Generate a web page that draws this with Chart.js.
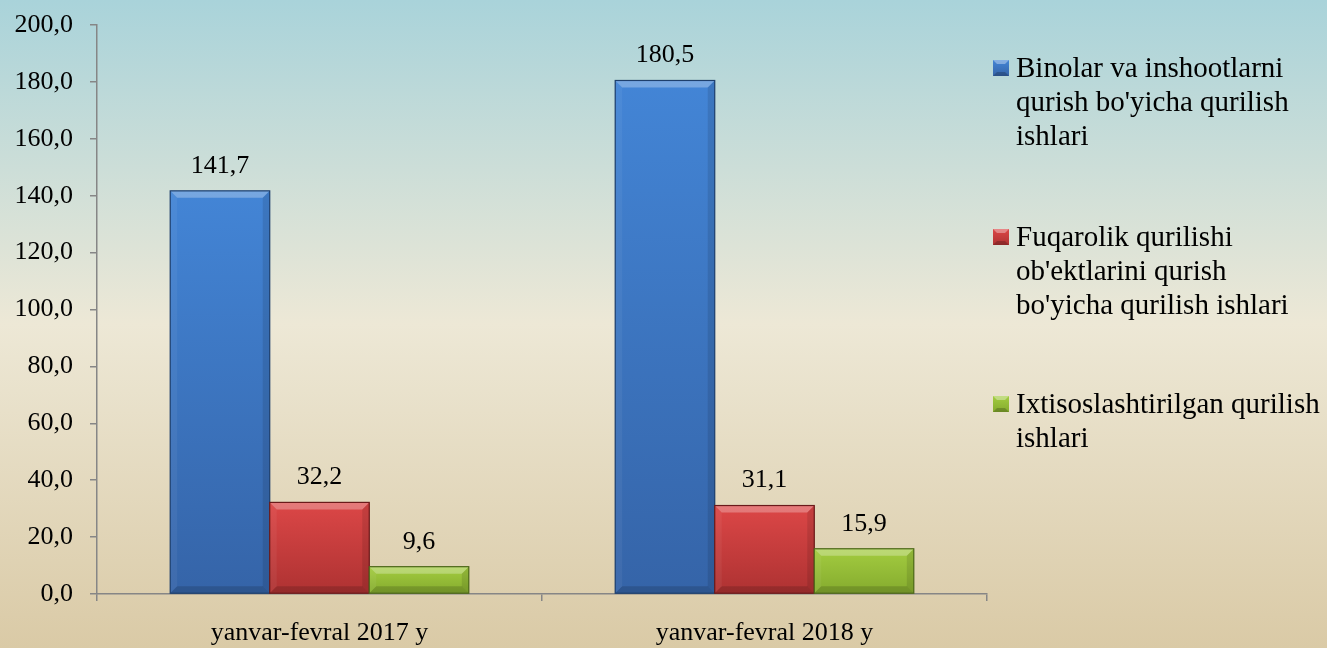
<!DOCTYPE html>
<html><head><meta charset="utf-8">
<script src="https://cdn.jsdelivr.net/npm/chart.js@4.4.1/dist/chart.umd.min.js"></script>
<style>html,body{margin:0;padding:0;overflow:hidden;background:#fff}</style>
</head><body>
<canvas id="c" width="1327" height="648" style="display:block;width:1327px;height:648px"></canvas>
<script>
const categories = ["yanvar-fevral 2017 y", "yanvar-fevral 2018 y"];
const seriesNames = [
  ["Binolar va inshootlarni", "qurish bo'yicha qurilish", "ishlari"],
  ["Fuqarolik qurilishi", "ob'ektlarini qurish", "bo'yicha qurilish ishlari"],
  ["Ixtisoslashtirilgan qurilish", "ishlari"]
];
const binolar = [141.7, 180.5];
const fuqarolik = [32.2, 31.1];
const ixtisoslashtirilgan = [9.6, 15.9];
const yMin = 0, yMax = 200, yStep = 20;

const palettes = [
  {top: '#4385d6', bottom: '#3564a8', border: '#1e3f6c'},
  {top: '#dc4747', bottom: '#ae3232', border: '#6a1a1a'},
  {top: '#a3cc40', bottom: '#85ab2e', border: '#4c661a'}
];
const FONT = "'Liberation Serif', 'Times New Roman', serif";
const fmt = v => v.toFixed(1).replace('.', ',');

Chart.defaults.font.family = FONT;
Chart.defaults.font.size = 26;
Chart.defaults.color = '#000';

const bgPlugin = {
  id: 'bg',
  beforeDraw(chart) {
    const ctx = chart.ctx, w = chart.width, h = chart.height;
    const g = ctx.createLinearGradient(0, 0, 0, h);
    g.addColorStop(0, '#a9d3da');
    g.addColorStop(0.5, '#ede8d6');
    g.addColorStop(1, '#dacaa6');
    ctx.save(); ctx.fillStyle = g; ctx.fillRect(0, 0, w, h); ctx.restore();
  }
};

function poly(ctx, pts, color) {
  ctx.beginPath();
  ctx.moveTo(pts[0][0], pts[0][1]);
  for (let k = 1; k < pts.length; k++) ctx.lineTo(pts[k][0], pts[k][1]);
  ctx.closePath();
  ctx.fillStyle = color; ctx.fill();
}

const bevelPlugin = {
  id: 'bevel',
  afterDatasetsDraw(chart) {
    const ctx = chart.ctx;
    chart.data.datasets.forEach((ds, i) => {
      const meta = chart.getDatasetMeta(i);
      const pal = palettes[i];
      meta.data.forEach((bar, j) => {
        const p = bar.getProps(['x', 'y', 'base', 'width'], true);
        const l = p.x - p.width / 2, r = p.x + p.width / 2, t = p.y, b = p.base;
        const d = Math.min(7, (b - t) / 2);
        ctx.save();
        const g = ctx.createLinearGradient(0, t, 0, b);
        g.addColorStop(0, pal.top); g.addColorStop(1, pal.bottom);
        ctx.fillStyle = g; ctx.fillRect(l, t, r - l, b - t);
        poly(ctx, [[l, t], [r, t], [r - d, t + d], [l + d, t + d]], 'rgba(255,255,255,0.28)');
        poly(ctx, [[l, t], [l + d, t + d], [l + d, b - d], [l, b]], 'rgba(255,255,255,0.05)');
        poly(ctx, [[r, t], [r - d, t + d], [r - d, b - d], [r, b]], 'rgba(0,0,0,0.10)');
        poly(ctx, [[l, b], [l + d, b - d], [r - d, b - d], [r, b]], 'rgba(0,0,0,0.15)');
        ctx.strokeStyle = pal.border; ctx.lineWidth = 1.2;
        ctx.strokeRect(l, t, r - l, b - t);
        ctx.fillStyle = '#000';
        ctx.font = '26px ' + FONT;
        ctx.textAlign = 'center'; ctx.textBaseline = 'middle';
        ctx.fillText(fmt(ds.data[j]), p.x, t - 25);
        ctx.restore();
      });
    });
  }
};

const legendPlugin = {
  id: 'customLegend',
  afterDraw(chart) {
    const ctx = chart.ctx;
    const x0 = 993, starts = [68, 237, 404], lh = 34, box = 16;
    ctx.save();
    chart.data.datasets.forEach((ds, i) => {
      const pal = palettes[i];
      const cy = starts[i];
      const bx = x0, by = cy - box / 2;
      const g = ctx.createLinearGradient(0, by, 0, by + box);
      g.addColorStop(0, pal.top); g.addColorStop(1, pal.bottom);
      ctx.fillStyle = g; ctx.fillRect(bx, by, box, box);
      const d = 4;
      poly(ctx, [[bx, by], [bx + box, by], [bx + box - d, by + d], [bx + d, by + d]], 'rgba(255,255,255,0.35)');
      poly(ctx, [[bx, by + box], [bx + d, by + box - d], [bx + box - d, by + box - d], [bx + box, by + box]], 'rgba(0,0,0,0.2)');
      ctx.fillStyle = '#000';
      ctx.font = '29px ' + FONT;
      ctx.textAlign = 'left'; ctx.textBaseline = 'middle';
      ds.labelLines.forEach((line, k) => ctx.fillText(line, x0 + 23, cy + 1 + k * lh));
    });
    ctx.restore();
  }
};

const seriesData = [binolar, fuqarolik, ixtisoslashtirilgan];
new Chart(document.getElementById('c'), {
  type: 'bar',
  data: {
    labels: categories,
    datasets: seriesData.map((arr, i) => ({
      label: seriesNames[i].join(' '),
      labelLines: seriesNames[i],
      data: arr,
      backgroundColor: palettes[i].top,
      borderWidth: 0,
      categoryPercentage: 0.671,
      barPercentage: 1.0
    }))
  },
  options: {
    responsive: false,
    animation: false,
    devicePixelRatio: 1,
    layout: {autoPadding: false, padding: {left: 14, right: 340, top: 25, bottom: 0}},
    plugins: {legend: {display: false}, tooltip: {enabled: false}},
    scales: {
      x: {
        afterFit: s => { s.height = 54; s.paddingLeft = 0; s.paddingRight = 0; },
        grid: {offset: true, drawOnChartArea: false, drawTicks: true, tickLength: 7, color: '#868686', lineWidth: 1.5},
        border: {color: '#868686', width: 1.5},
        ticks: {padding: 17, color: '#000', font: {size: 26, family: FONT}}
      },
      y: {
        min: yMin, max: yMax,
        afterFit: s => { s.width = 83; s.paddingTop = 0; s.paddingBottom = 0; },
        grid: {drawOnChartArea: false, drawTicks: true, tickLength: 7, color: '#868686', lineWidth: 1.5},
        border: {color: '#868686', width: 1.5},
        ticks: {stepSize: yStep, padding: 17, color: '#000', font: {size: 26, family: FONT}, callback: v => fmt(v)}
      }
    }
  },
  plugins: [bgPlugin, bevelPlugin, legendPlugin]
});
</script>
</body></html>
